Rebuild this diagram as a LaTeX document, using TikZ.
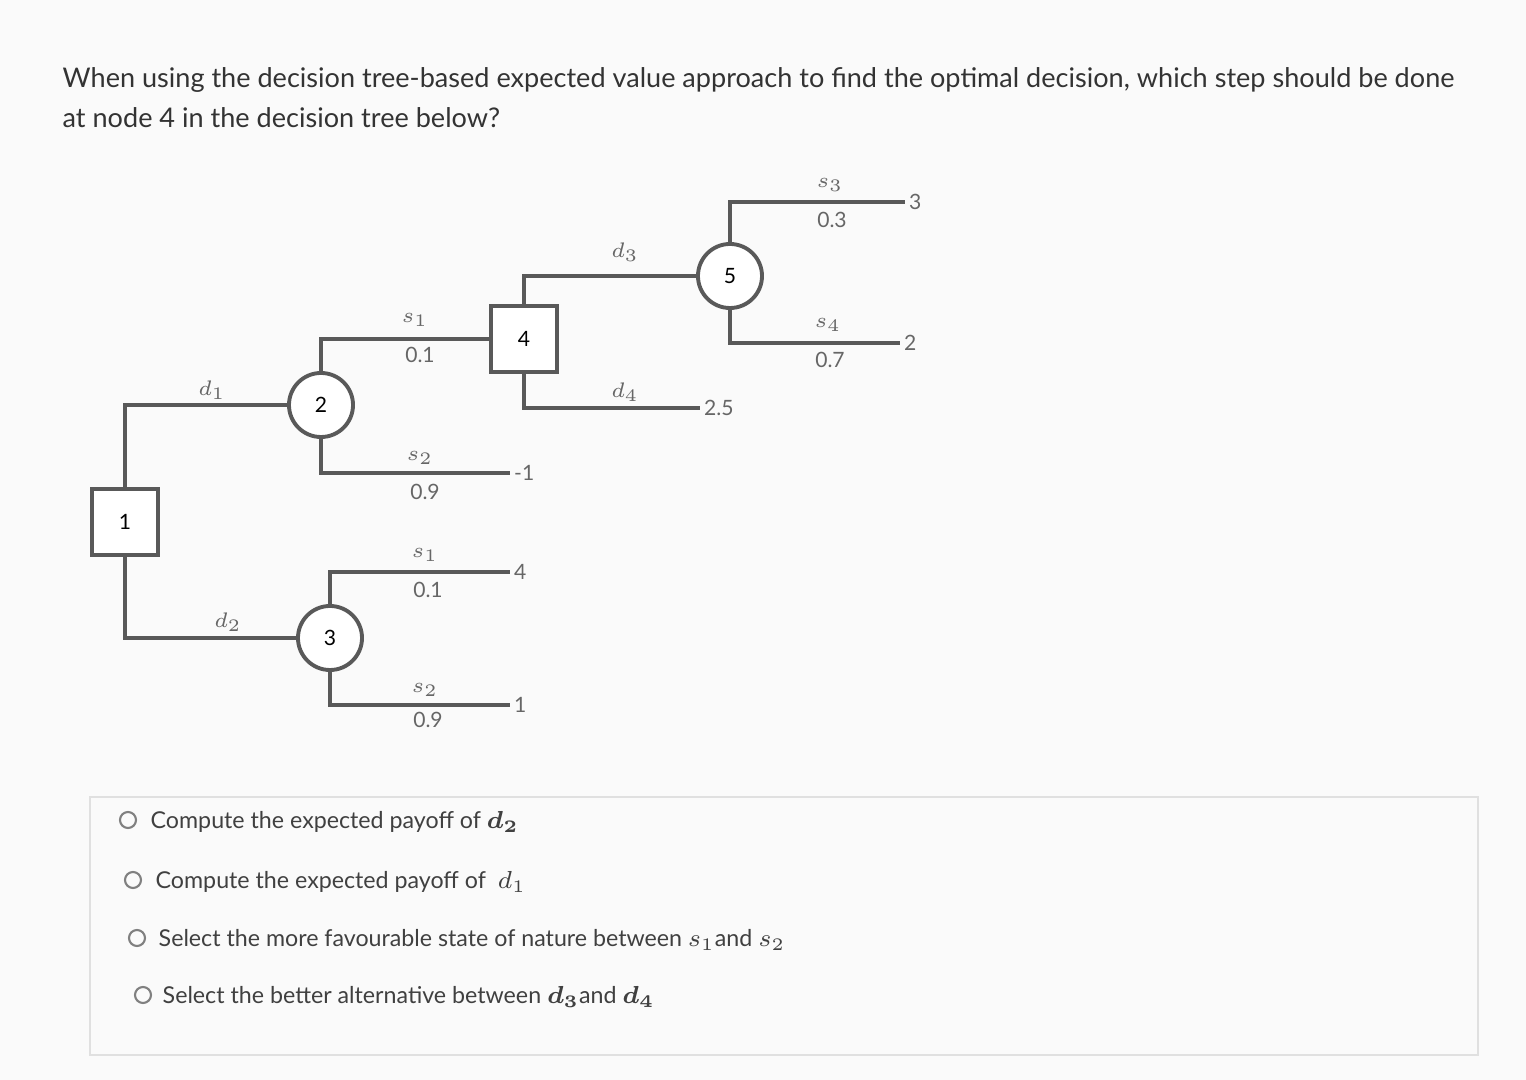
\documentclass[tikz,border=0pt]{standalone}
\usepackage{amsmath}
\usepackage{fontspec}
\setmainfont{Lato}
\begin{document}
\begin{tikzpicture}[x=0.01cm,y=-0.01cm,
  ln/.style={draw=black!65,line width=1.1pt},
  sq/.style={ln,fill=white,minimum width=0.66cm,minimum height=0.66cm,inner sep=0pt},
  cr/.style={ln,circle,fill=white,minimum size=0.64cm,inner sep=0pt},
  lb/.style={font=\fontsize{6}{7}\selectfont,text=black!60,inner sep=1pt},
  opt/.style={anchor=west,font=\fontsize{6.6}{8}\selectfont,text=black!75,inner sep=0pt},
  rad/.style={circle,draw=black!50,line width=0.6pt,minimum size=0.16cm,inner sep=0pt}]
\useasboundingbox[fill=black!2] (0,0) rectangle (1526,1080);
\draw[black!12] (90,797) rectangle (1478,1055);
\node[anchor=west,font=\fontsize{7.7}{9}\selectfont,text=black!80,inner sep=0pt] (t1) at (62,80) {When using the decision tree-based expected value approach to find the optimal decision, which step should be done};
\node[anchor=west,font=\fontsize{7.7}{9}\selectfont,text=black!80,inner sep=0pt] (t2) at (62,118) {at node 4 in the decision tree below?};
% nodes
\node[sq] (n1) at (125,522) {\fontsize{6}{7}\selectfont 1};
\node[cr] (n2) at (321,405) {\fontsize{6}{7}\selectfont 2};
\node[cr] (n3) at (330,638) {\fontsize{6}{7}\selectfont 3};
\node[sq] (n4) at (524,339) {\fontsize{6}{7}\selectfont 4};
\node[cr] (n5) at (730,276) {\fontsize{6}{7}\selectfont 5};
\coordinate (e1) at (510,473);
\coordinate (e2) at (510,572);
\coordinate (e3) at (510,705);
\coordinate (e4) at (700,408);
\coordinate (e5) at (905,202);
\coordinate (e6) at (900,343);
% connectors
\draw[ln] (n1.north) |- (n2.west);
\draw[ln] (n1.south) |- (n3.west);
\draw[ln] (n2.north) |- (n4.west);
\draw[ln] (n2.south) |- (e1);
\draw[ln] (n3.north) |- (e2);
\draw[ln] (n3.south) |- (e3);
\draw[ln] (n4.north) |- (n5.west);
\draw[ln] (n4.south) |- (e4);
\draw[ln] (n5.north) |- (e5);
\draw[ln] (n5.south) |- (e6);
% labels
\node[lb] at (212,390) {$d_1$};
\node[lb] at (228,622) {$d_2$};
\node[lb] at (415,320) {$s_1$}; \node[lb] at (420,355) {0.1};
\node[lb] at (420,458) {$s_2$}; \node[lb] at (425,492) {0.9};
\node[lb] at (425,555) {$s_1$}; \node[lb] at (428,590) {0.1};
\node[lb] at (425,690) {$s_2$}; \node[lb] at (428,720) {0.9};
\node[lb,anchor=west] at (e1) {-1};
\node[lb,anchor=west] at (e2) {4};
\node[lb,anchor=west] at (e3) {1};
\node[lb] at (625,252) {$d_3$}; \node[lb] at (625,392) {$d_4$};
\node[lb,anchor=west] at (e4) {2.5};
\node[lb] at (830,185) {$s_3$}; \node[lb] at (832,220) {0.3};
\node[lb] at (828,325) {$s_4$}; \node[lb] at (830,360) {0.7};
\node[lb,anchor=west] at (e5) {3};
\node[lb,anchor=west] at (e6) {2};
% options
\node[rad] (r1) at (128,820) {}; \node[opt] (o1) at (150,822) {Compute the expected payoff of $\boldsymbol{d_2}$};
\node[rad] (r2) at (133,880) {}; \node[opt] (o2) at (155,882) {Compute the expected payoff of \ $d_1$};
\node[rad] (r3) at (137,938) {}; \node[opt] (o3) at (158,940) {Select the more favourable state of nature between $s_1$and $s_2$};
\node[rad] (r4) at (143,995) {}; \node[opt] (o4) at (162,997) {Select the better alternative between $\boldsymbol{d_3}$and $\boldsymbol{d_4}$};
\end{tikzpicture}
\end{document}
